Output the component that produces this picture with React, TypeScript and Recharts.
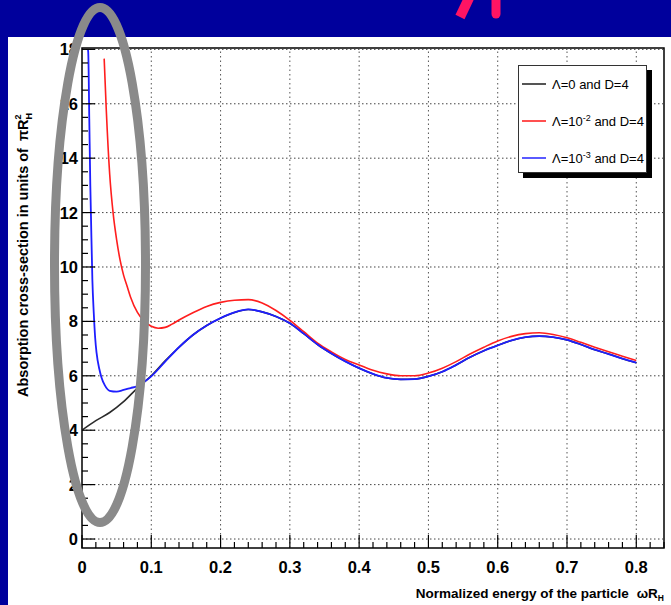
import React from "react";
import { LineChart, Line, XAxis, YAxis, ReferenceLine, ReferenceArea, Legend, Label } from "recharts";

// axis ticks
const xMajorTicks = [0, 0.1, 0.2, 0.3, 0.4, 0.5, 0.6, 0.7, 0.8];
const xTickLabels = ["0", "0.1", "0.2", "0.3", "0.4", "0.5", "0.6", "0.7", "0.8"];
const yMajorTicks = [0, 2, 4, 6, 8, 10, 12, 14, 16, 18];
const yTickLabels = ["0", "2", "4", "6", "8", "10", "12", "14", "16", "18"];

// Lambda = 0, D = 4
const energyBlack = [
  0, 0.02, 0.04, 0.06, 0.08, 0.1, 0.12, 0.14, 0.16, 0.18, 0.2, 0.22, 0.24, 0.26, 0.28, 0.3, 0.32, 0.34, 0.36,
  0.38, 0.4, 0.42, 0.44, 0.46, 0.48, 0.5, 0.52, 0.54, 0.56, 0.58, 0.6, 0.62, 0.64, 0.66, 0.68, 0.7, 0.72, 0.74,
  0.76, 0.78, 0.8,
];
const crossBlack = [
  4.0, 4.35, 4.65, 5.05, 5.55, 6.0, 6.55, 7.05, 7.5, 7.85, 8.12, 8.33, 8.44, 8.35, 8.18, 7.93, 7.55, 7.15, 6.82,
  6.53, 6.28, 6.07, 5.92, 5.87, 5.88, 5.98, 6.15, 6.4, 6.68, 6.92, 7.12, 7.3, 7.42, 7.46, 7.42, 7.32, 7.15, 6.96,
  6.8, 6.63, 6.48,
];

// Lambda = 1e-2, D = 4
const energyRed = [
  0.032, 0.035, 0.04, 0.045, 0.05, 0.055, 0.06, 0.065, 0.07, 0.08, 0.09, 0.1, 0.11, 0.12, 0.13, 0.14, 0.16, 0.18,
  0.2, 0.22, 0.24, 0.26, 0.28, 0.3, 0.32, 0.34, 0.36, 0.38, 0.4, 0.42, 0.44, 0.46, 0.48, 0.5, 0.52, 0.54, 0.56,
  0.58, 0.6, 0.62, 0.64, 0.66, 0.68, 0.7, 0.72, 0.74, 0.76, 0.78, 0.8,
];
const crossRed = [
  17.66, 15.8, 13.4, 11.96, 11.0, 10.25, 9.7, 9.3, 8.9, 8.33, 8.0, 7.82, 7.75, 7.78, 7.9, 8.05, 8.32, 8.55, 8.7,
  8.78, 8.8, 8.68, 8.4, 8.04, 7.62, 7.2, 6.88, 6.6, 6.4, 6.2, 6.07, 6.0, 6.0, 6.1, 6.28, 6.52, 6.8, 7.05, 7.28,
  7.45, 7.55, 7.58, 7.52, 7.4, 7.23, 7.05, 6.88, 6.72, 6.56,
];

// Lambda = 1e-3, D = 4
const energyBlue = [
  0.0085, 0.009, 0.0105, 0.012, 0.013, 0.015, 0.017, 0.019, 0.021, 0.025, 0.028, 0.033, 0.04, 0.05, 0.06, 0.07,
  0.08, 0.09, 0.1, 0.12, 0.14, 0.16, 0.18, 0.2, 0.22, 0.24, 0.26, 0.28, 0.3, 0.32, 0.34, 0.36, 0.38, 0.4, 0.42,
  0.44, 0.46, 0.48, 0.5, 0.52, 0.54, 0.56, 0.58, 0.6, 0.62, 0.64, 0.66, 0.68, 0.7, 0.72, 0.74, 0.76, 0.78, 0.8,
];
const crossBlue = [
  18.0, 17.9, 15.45, 13.0, 11.8, 9.5, 8.3, 7.4, 6.85, 6.25, 5.95, 5.65, 5.45, 5.42, 5.48, 5.55, 5.62, 5.78, 5.98,
  6.52, 7.05, 7.5, 7.85, 8.12, 8.33, 8.44, 8.35, 8.18, 7.93, 7.55, 7.15, 6.82, 6.53, 6.28, 6.07, 5.92, 5.87, 5.88,
  5.98, 6.15, 6.4, 6.68, 6.92, 7.12, 7.3, 7.42, 7.46, 7.42, 7.32, 7.15, 6.96, 6.8, 6.63, 6.48,
];

const toPoints = (xs: number[], ys: number[]) => xs.map((x, i) => ({ x, y: ys[i] }));

const X_DOMAIN: [number, number] = [0, 0.84];
const Y_DOMAIN: [number, number] = [-0.33, 18.05];

const xTicks = Array.from({ length: 43 }, (_, i) => Math.round(i * 2) / 100);
const yTicks = Array.from({ length: 37 }, (_, i) => i * 0.5);

const FONT = "'Liberation Sans', Arial, Helvetica, sans-serif";

const findMajor = (list: number[], v: number) => list.findIndex((t) => Math.abs(t - v) < 1e-6);

const XTick = (props: any) => {
  const { x, y, payload } = props;
  const i = findMajor(xMajorTicks, payload.value);
  return (
    <g>
      <line x1={x} x2={x} y1={y} y2={y - (i >= 0 ? 13 : 6)} stroke="#000" strokeWidth={1.2} />
      {i >= 0 && (
        <text x={x} y={y + 25} textAnchor="middle" fontFamily={FONT} fontWeight="bold" fontSize={16.5} fill="#000">
          {xTickLabels[i]}
        </text>
      )}
    </g>
  );
};

const YTick = (props: any) => {
  const { x, y, payload } = props;
  const i = findMajor(yMajorTicks, payload.value);
  return (
    <g>
      <line x1={x} x2={x + (i >= 0 ? 13 : 6)} y1={y} y2={y} stroke="#000" strokeWidth={1.2} />
      {i >= 0 && (
        <text x={x - 4} y={y} dy="0.36em" textAnchor="end" fontFamily={FONT} fontWeight="bold" fontSize={16.5} fill="#000">
          {yTickLabels[i]}
        </text>
      )}
    </g>
  );
};

const legendItems = [
  { color: "#555555", base: "\u039b=0", sup: "", rest: " and D=4" },
  { color: "#ff5050", base: "\u039b=10", sup: "-2", rest: " and D=4" },
  { color: "#5a5aff", base: "\u039b=10", sup: "-3", rest: " and D=4" },
];

const renderLegend = () => (
  <div
    style={{
      width: 129,
      height: 108,
      boxSizing: "border-box",
      border: "1px solid #333",
      background: "#fff",
      boxShadow: "5px 5px 0 #000",
      fontFamily: FONT,
      fontSize: 13,
      color: "#000",
      position: "relative",
    }}
  >
    {legendItems.map((it, k) => (
      <div key={k} style={{ position: "absolute", left: 3, top: 9 + k * 37, height: 18, display: "flex", alignItems: "center" }}>
        <span style={{ display: "inline-block", width: 24, height: 2, background: it.color, marginRight: 6 }} />
        <span style={{ whiteSpace: "nowrap" }}>
          {it.base}
          {it.sup && <span style={{ fontSize: 9, position: "relative", top: -5 }}>{it.sup}</span>}
          {it.rest}
        </span>
      </div>
    ))}
  </div>
);

const XTitle = (props: any) => {
  const { viewBox } = props;
  const right = viewBox.x + viewBox.width;
  return (
    <text x={right} y={598} textAnchor="end" fontFamily={FONT} fontWeight="bold" fontSize={13.5} fill="#000">
      Normalized energy of the particle
      <tspan dx={8}>{"\u03c9R"}</tspan>
      <tspan fontSize={8.5} dy={3}>H</tspan>
    </text>
  );
};

const YTitle = () => (
  <text
    x={0}
    y={0}
    transform="translate(28,397) rotate(-90)"
    fontFamily={FONT}
    fontWeight="bold"
    fontSize={14.5}
    fill="#000"
  >
    Absorption cross-section in units of
    <tspan dx={7}>{"\u03c0R"}</tspan>
    <tspan fontSize={9} dy={-7}>2</tspan>
    <tspan fontSize={9} dx={-5} dy={11}>H</tspan>
  </text>
);

export default function App() {
  return (
    <div style={{ position: "absolute", left: 0, top: 0, width: 671, height: 605, background: "#00009c", overflow: "hidden" }}>
      <div style={{ position: "absolute", left: 8, top: 37, width: 663, height: 568, background: "#fff" }} />
      <div style={{ position: "absolute", left: 0, top: 0 }}>
        <LineChart width={671} height={605} margin={{ top: 48, right: 7, left: 22, bottom: 17 }}>
          <XAxis
            dataKey="x"
            type="number"
            domain={X_DOMAIN}
            ticks={xTicks}
            interval={0}
            allowDataOverflow
            axisLine={false}
            tickLine={false}
            tickSize={0}
            tickMargin={0}
            tick={<XTick />}
            height={40}
          >
            <Label content={<XTitle />} />
          </XAxis>
          <YAxis
            type="number"
            domain={Y_DOMAIN}
            ticks={yTicks}
            interval={0}
            allowDataOverflow
            axisLine={false}
            tickLine={false}
            tickSize={0}
            tickMargin={0}
            tick={<YTick />}
            width={60}
          >
            <Label content={<YTitle />} />
          </YAxis>
          {xMajorTicks.slice(1).map((v) => (
            <ReferenceLine key={"vx" + v} x={v} stroke="#555" strokeDasharray="1.5 3" ifOverflow="visible" />
          ))}
          {yMajorTicks.map((v) => (
            <ReferenceLine key={"hy" + v} y={v} stroke="#444" strokeDasharray="1.5 2.5" ifOverflow="visible" />
          ))}
          <ReferenceArea
            x1={X_DOMAIN[0]}
            x2={X_DOMAIN[1]}
            y1={Y_DOMAIN[0]}
            y2={Y_DOMAIN[1]}
            fill="none"
            fillOpacity={0}
            stroke="#000"
            strokeWidth={1.5}
            ifOverflow="visible"
          />
          <Line data={toPoints(energyBlack, crossBlack)} dataKey="y" type="monotone" stroke="#2b2b2b" strokeWidth={1.6} dot={false} isAnimationActive={false} />
          <Line data={toPoints(energyRed, crossRed)} dataKey="y" type="monotone" stroke="#ff1e1e" strokeWidth={1.6} dot={false} isAnimationActive={false} />
          <Line data={toPoints(energyBlue, crossBlue)} dataKey="y" type="monotone" stroke="#1e1eff" strokeWidth={1.8} dot={false} isAnimationActive={false} />
          <Legend
            layout="vertical"
            align="center"
            verticalAlign="middle"
            content={renderLegend}
            wrapperStyle={{ left: 518, top: 65, width: 129, height: 108 }}
          />
        </LineChart>
      </div>
      <svg width={671} height={605} style={{ position: "absolute", left: 0, top: 0, pointerEvents: "none" }}>
        <ellipse cx={100} cy={265} rx={45.5} ry={257.5} fill="none" stroke="#8a8a8a" strokeWidth={9} />
        <line x1={460} y1={17} x2={469} y2={-2} stroke="#ff1463" strokeWidth={10} />
        <line x1={496} y1={-2} x2={496} y2={14} stroke="#ff1463" strokeWidth={9} strokeLinecap="round" />
      </svg>
    </div>
  );
}
